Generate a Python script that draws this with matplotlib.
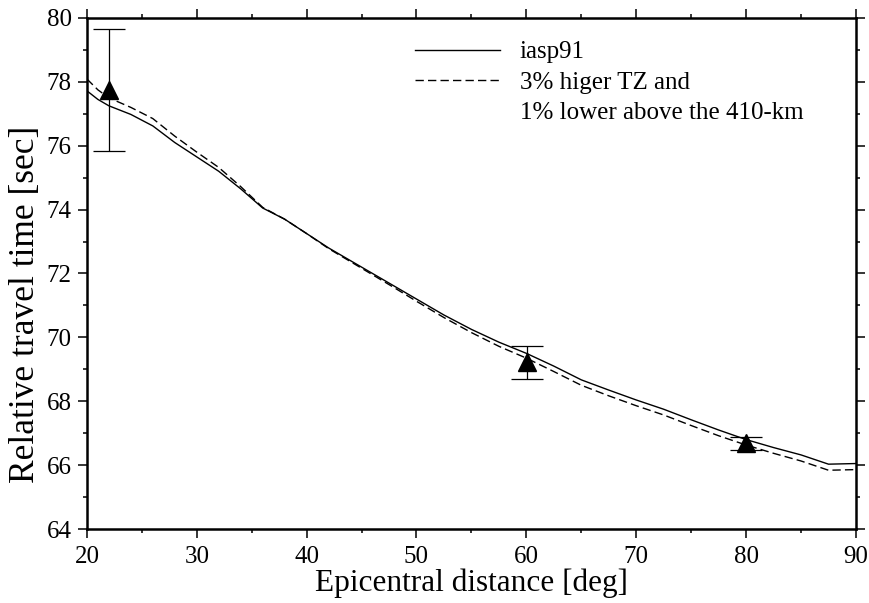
# travel time curves vs epicentral distance
import matplotlib.pyplot as plt
from matplotlib.lines import Line2D
from matplotlib.ticker import MultipleLocator

plt.rcParams['font.family'] = ['Liberation Serif', 'DejaVu Serif']

dist = [20, 21, 22, 24, 26, 28, 30, 32, 34, 36, 38, 40, 42, 44, 46, 48, 50,
        52.5, 55, 57.5, 60, 62.5, 65, 67.5, 70, 72.5, 75, 77.5, 80, 82.5, 85, 87.5, 90]
iasp91 = [77.72, 77.45, 77.25, 76.98, 76.62, 76.10, 75.65, 75.20, 74.65, 74.05, 73.70,
          73.25, 72.80, 72.40, 72.00, 71.60, 71.20, 70.70, 70.25, 69.85, 69.50, 69.10,
          68.67, 68.35, 68.04, 67.75, 67.42, 67.10, 66.80, 66.55, 66.32, 66.03, 66.05]
model_tz = [78.09, 77.75, 77.50, 77.20, 76.85, 76.30, 75.80, 75.32, 74.72, 74.07, 73.70,
            73.25, 72.78, 72.37, 71.96, 71.55, 71.13, 70.62, 70.15, 69.72, 69.35, 68.93,
            68.50, 68.17, 67.86, 67.57, 67.24, 66.92, 66.63, 66.37, 66.13, 65.84, 65.86]

obs_dist = [22.0, 60.1, 80.0]
obs_time = [77.75, 69.22, 66.68]
obs_err = [1.9, 0.52, 0.2]

fig = plt.figure(figsize=(8.69, 6.03), dpi=100)
ax = fig.add_axes([0.100, 0.1227, 0.885, 0.8475])

ax.plot(dist, iasp91, color='black', lw=1.0)
ax.plot(dist, model_tz, color='black', lw=1.0, dashes=(6, 3))
ax.errorbar(obs_dist, obs_time, yerr=obs_err, fmt='^', color='black', ms=13,
            ecolor='black', elinewidth=0.9, capsize=11.5, capthick=0.9)

ax.set_xlim(20, 90)
ax.set_ylim(64, 80)
ax.xaxis.set_major_locator(MultipleLocator(10))
ax.xaxis.set_minor_locator(MultipleLocator(5))
ax.yaxis.set_major_locator(MultipleLocator(2))
ax.yaxis.set_minor_locator(MultipleLocator(1))
ax.tick_params(which='both', direction='out', top=True, right=True, width=1.1, labelsize=18)
ax.tick_params(which='major', length=6.5)
ax.tick_params(which='minor', length=3.2)
ax.tick_params(axis='x', which='major', pad=5.5)
ax.tick_params(axis='y', which='major', pad=4.5)
for s in ax.spines.values():
    s.set_linewidth(1.8)

ax.set_xlabel("Epicentral distance [deg]", fontsize=22.5)
ax.set_ylabel("Relative travel time [sec]", fontsize=25.5)
ax.xaxis.set_label_coords(0.5, -0.077)
ax.yaxis.set_label_coords(-0.058, 0.44)

handles = [Line2D([], [], color='black', lw=1.0),
           Line2D([], [], color='black', lw=1.0, dashes=(6, 3)),
           Line2D([], [], color='none')]
labels = ["iasp91", "3% higer TZ and", "1% lower above the 410-km"]
ax.legend(handles, labels, loc='upper left', bbox_to_anchor=(0.4265, 0.955),
          frameon=False, fontsize=18, handlelength=3.4, handletextpad=0.8,
          labelspacing=0.32, borderpad=0, borderaxespad=0)

plt.savefig("out.png", dpi=100)
